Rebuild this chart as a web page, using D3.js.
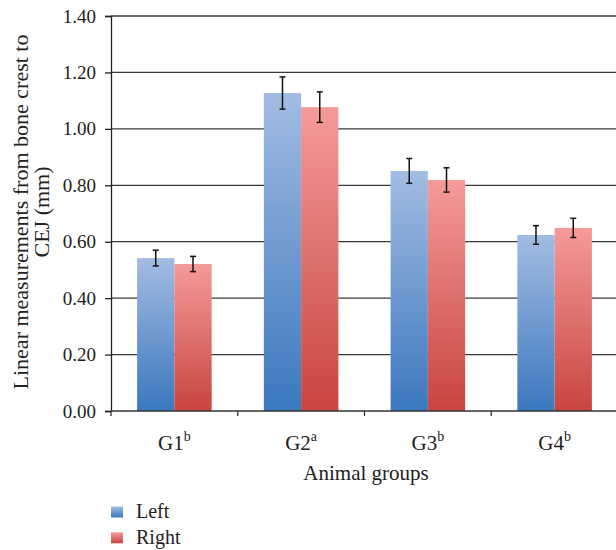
<!DOCTYPE html>
<html><head><meta charset="utf-8">
<script src="https://cdn.jsdelivr.net/npm/d3@7"></script>
<style>body{margin:0;background:#fff}svg{display:block}text{font-family:"Liberation Serif","DejaVu Serif",serif;fill:#222}</style>
</head><body>
<svg id="c" width="616" height="550"></svg>
<script>
const categories = ["G1", "G2", "G3", "G4"];
const superscripts = ["b", "a", "b", "b"];
const seriesNames = ["Left", "Right"];
const leftValues = [0.542, 1.127, 0.851, 0.624];
const rightValues = [0.521, 1.077, 0.819, 0.649];
const leftErrors = [0.028, 0.057, 0.044, 0.033];
const rightErrors = [0.027, 0.054, 0.043, 0.034];
const yTicks = [0, 0.2, 0.4, 0.6, 0.8, 1.0, 1.2, 1.4];

const svg = d3.select("#c");
const m = {l: 111, r: 616, t: 16, b: 411};
const x = d3.scaleBand().domain(categories).range([m.l, 618]).paddingInner(0).paddingOuter(0);
const y = d3.scaleLinear().domain([0, 1.4]).range([m.b, m.t]);
const inner = d3.scaleBand().domain(seriesNames).range([0, x.bandwidth()]).paddingOuter(0.7).paddingInner(0);

const defs = svg.append("defs");
const grads = [["gL", "#a3bce2", "#3b78be"], ["gR", "#f59a9a", "#c8453f"]];
grads.forEach(([id, c1, c2]) => {
  const g = defs.append("linearGradient").attr("id", id).attr("x1", 0).attr("y1", 0).attr("x2", 0).attr("y2", 1);
  g.append("stop").attr("offset", "0%").attr("stop-color", c1);
  g.append("stop").attr("offset", "100%").attr("stop-color", c2);
});

// gridlines
svg.append("g").selectAll("line").data(yTicks.slice(1)).join("line")
  .attr("x1", m.l).attr("x2", 616).attr("y1", d => y(d)).attr("y2", d => y(d))
  .attr("stroke", "#3a3a3a").attr("stroke-width", 1.3);

// y axis
const ya = svg.append("g").attr("transform", `translate(${m.l},0)`)
  .call(d3.axisLeft(y).tickValues(yTicks).tickFormat(d3.format(".2f")).tickSize(6).tickPadding(9));
ya.select(".domain").attr("stroke", "#222").attr("stroke-width", 1.3);
ya.selectAll(".tick line").attr("stroke", "#222").attr("stroke-width", 1.3);
ya.selectAll(".tick text").attr("font-size", 19).attr("font-family", "Liberation Serif").attr("fill", "#222");

// bars
const data = categories.map((c, i) => ({c, vals: [
  {s: "Left", v: leftValues[i], e: leftErrors[i], g: "gL"},
  {s: "Right", v: rightValues[i], e: rightErrors[i], g: "gR"}]}));
const grp = svg.append("g").selectAll("g").data(data).join("g")
  .attr("transform", d => `translate(${x(d.c)},0)`);
grp.selectAll("rect").data(d => d.vals).join("rect")
  .attr("x", d => inner(d.s)).attr("width", inner.bandwidth())
  .attr("y", d => y(d.v)).attr("height", d => y(0) - y(d.v))
  .attr("fill", d => `url(#${d.g})`);
// error bars
const eb = grp.selectAll("g.eb").data(d => d.vals).join("g").attr("class", "eb");
eb.append("line").attr("x1", d => inner(d.s) + inner.bandwidth() / 2).attr("x2", d => inner(d.s) + inner.bandwidth() / 2)
  .attr("y1", d => y(d.v + d.e)).attr("y2", d => y(d.v - d.e)).attr("stroke", "#111").attr("stroke-width", 1.5);
[1, -1].forEach(sg => {
  eb.append("line").attr("x1", d => inner(d.s) + inner.bandwidth() / 2 - 3).attr("x2", d => inner(d.s) + inner.bandwidth() / 2 + 3)
    .attr("y1", d => y(d.v + sg * d.e)).attr("y2", d => y(d.v + sg * d.e)).attr("stroke", "#111").attr("stroke-width", 1.5);
});

// x axis
const xa = svg.append("g").attr("transform", `translate(0,${m.b})`);
xa.append("line").attr("x1", m.l).attr("x2", 616).attr("stroke", "#333").attr("stroke-width", 1.3);
xa.selectAll("line.t").data(categories.concat(["end"])).join("line").attr("class", "t")
  .attr("x1", (d, i) => m.l + i * x.bandwidth()).attr("x2", (d, i) => m.l + i * x.bandwidth())
  .attr("y1", 0).attr("y2", 5).attr("stroke", "#333").attr("stroke-width", 1.3);
const lbl = xa.selectAll("text.c").data(categories).join("text").attr("class", "c")
  .attr("x", d => x(d) + x.bandwidth() / 2).attr("y", 39).attr("text-anchor", "middle").attr("font-size", 21);
lbl.append("tspan").text(d => d);
lbl.append("tspan").attr("dy", -9).attr("font-size", 14).text((d, i) => superscripts[i]);

svg.append("text").attr("x", 366).attr("y", 480).attr("text-anchor", "middle").attr("font-size", 21).text("Animal groups");

const yt = svg.append("text").attr("transform", "translate(28,212) rotate(-90)").attr("text-anchor", "middle").attr("font-size", 22);
yt.append("tspan").attr("x", 0).attr("dy", 0).text("Linear measurements from bone crest to");
yt.append("tspan").attr("x", 0).attr("dy", 21).text("CEJ (mm)");

// legend
const lg = svg.append("g").selectAll("g").data(seriesNames).join("g")
  .attr("transform", (d, i) => `translate(111,${506.5 + i * 25.8})`);
lg.append("rect").attr("width", 12).attr("height", 11).attr("fill", (d, i) => `url(#${grads[i][0]})`);
lg.append("text").attr("x", 25).attr("y", 11.2).attr("font-size", 20).text(d => d);
</script>
</body></html>
